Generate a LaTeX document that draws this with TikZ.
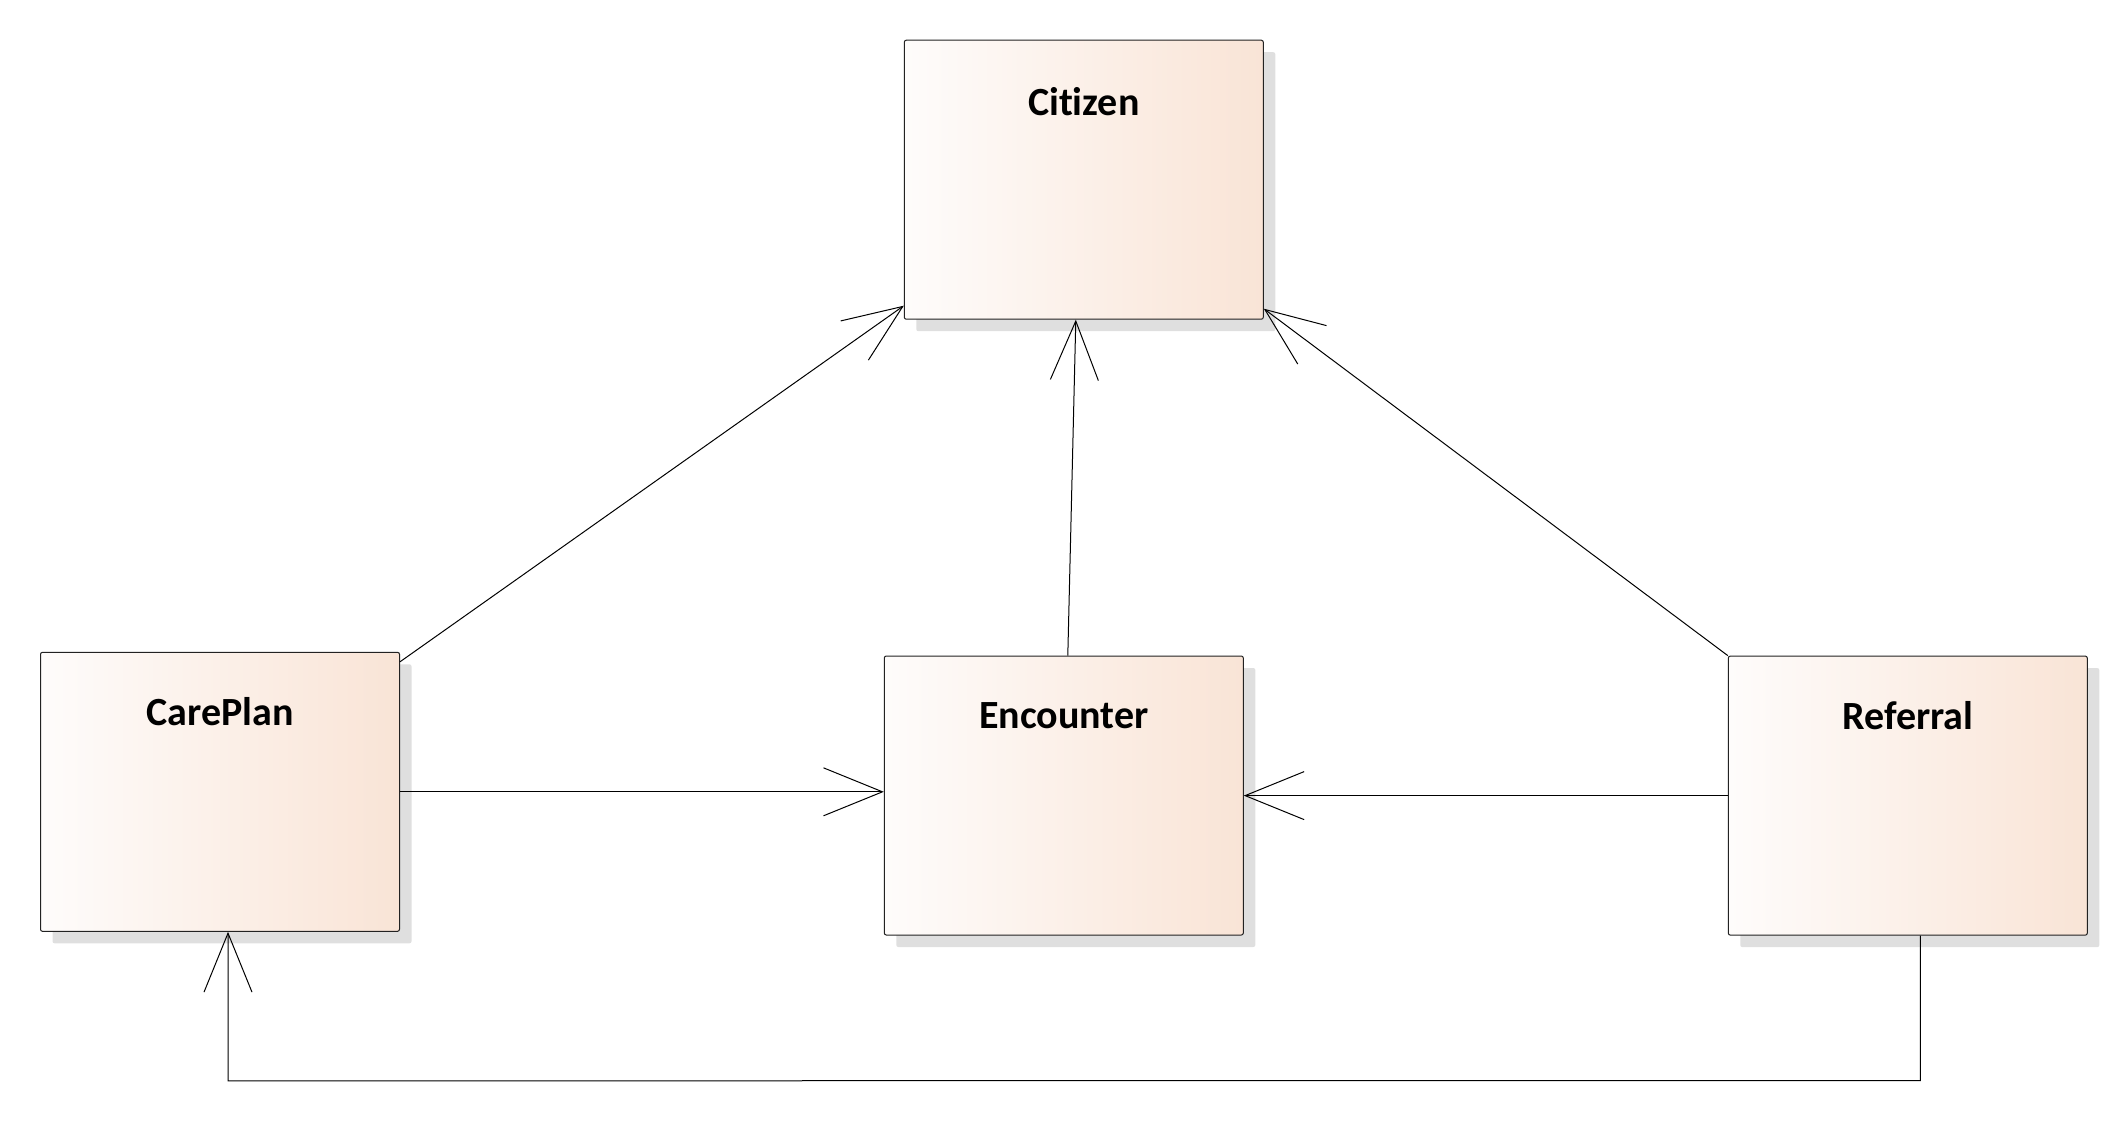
\documentclass[tikz,border=0pt]{standalone}
\usepackage{fontspec}
\setmainfont{Carlito}[Ligatures=NoCommon]
\usetikzlibrary{arrows.meta,shadows,calc}
\definecolor{boxL}{HTML}{FEFCFB}
\definecolor{boxR}{HTML}{F9E4D6}
\definecolor{shade}{HTML}{DFDFDF}
\definecolor{edge}{HTML}{222222}
\tikzset{
  cls/.style={rectangle, rounded corners=2pt, draw=edge, line width=1pt,
    left color=boxL, right color=boxR, minimum width=359pt, minimum height=279pt,
    inner sep=0pt, general shadow={fill=shade, shadow xshift=12pt, shadow yshift=-12pt}},
  ttl/.style={font=\bfseries\fontsize{40pt}{46pt}\selectfont, inner sep=0pt, anchor=center},
  conn/.style={draw=black, line width=1pt},
  arr/.style={conn, -{Straight Barb[length=59pt,width=48pt]}}
}
\begin{document}
\begin{tikzpicture}[x=1pt,y=-1pt]
\useasboundingbox (0,0) rectangle (2128,1120);
\node[cls] (cit) at (1083.8,179.7) {};
\node[cls] (cp)  at (220,791.8) {};
\node[cls] (enc) at (1063.8,795.5) {};
\node[cls] (ref) at (1907.8,795.6) {};
\node[ttl] (citT) at ($(cit.north)+(0,62)$) {Citizen};
\node[ttl] (cpT)  at ($(cp.north)+(0,60)$) {CarePlan};
\node[ttl] (encT) at ($(enc.north)+(0,60)$) {Encounter};
\node[ttl] (refT) at ($(ref.north)+(0,60)$) {Referral};
% connectors
\draw[arr] ([yshift=-10pt]cp.north east) -- ([yshift=14pt]cit.south west);
\draw[arr] ([xshift=4pt]enc.north) -- ([xshift=-8pt]cit.south);
\draw[arr] (ref.north west) -- ([yshift=11pt]cit.south east);
\draw[arr] (cp.east) -- (cp.east -| enc.west);
\draw[arr] (ref.west) -- (ref.west -| enc.east);
\coordinate (b1) at ($(ref.south)+(12.5,145)$);
\coordinate (b2) at ($(cp.south)+(8,149)$);
\draw[arr] ([xshift=12.5pt]ref.south) -- (b1) -- (b2) -- ([xshift=8pt]cp.south);
\end{tikzpicture}
\end{document}
